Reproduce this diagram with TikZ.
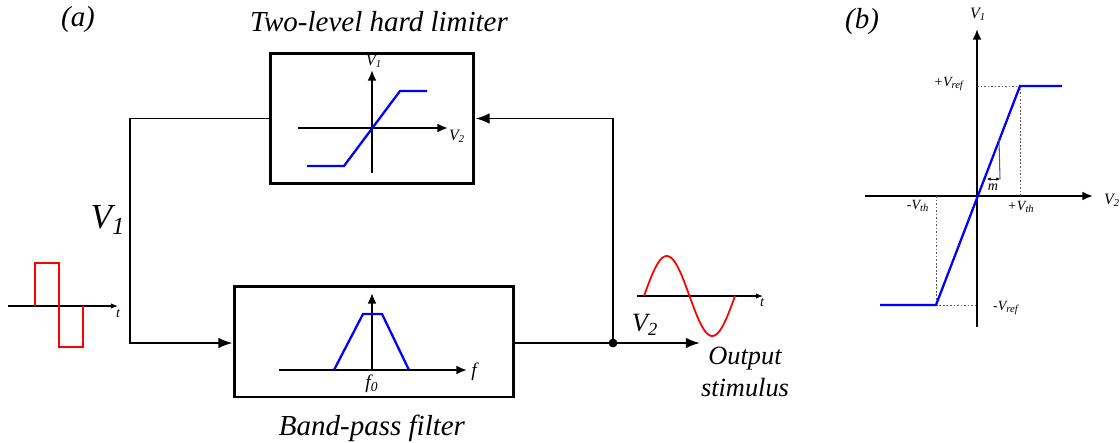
\documentclass[tikz,border=0pt]{standalone}
\usepackage{fontspec}
\setmainfont{Liberation Serif}
\usepackage{xcolor}
\usetikzlibrary{arrows.meta}
\definecolor{plotblue}{RGB}{0,0,255}
\definecolor{sigred}{RGB}{255,0,0}
\definecolor{guidegray}{RGB}{90,90,90}

\begin{document}
\begin{tikzpicture}[x=0.02cm, y=-0.02cm,
    blk/.style={draw, line width=1.7pt, inner sep=0pt},
    flow/.style={line width=1.1pt, -{Latex[length=8pt,width=6pt]}},
    axis/.style={line width=1.1pt, -{Latex[length=6pt,width=5pt]}},
    thinaxis/.style={line width=0.6pt, -{Latex[length=4pt,width=3pt]}},
    curve/.style={plotblue, line width=1.3pt},
    wave/.style={sigred, line width=1pt},
    guide/.style={guidegray, line width=0.5pt, dash pattern=on 1pt off 1pt},
    bigtxt/.style={font=\fontsize{16.5}{19}\selectfont\itshape},
    midtxt/.style={font=\fontsize{15}{18}\selectfont\itshape},
    smalltxt/.style={font=\fontsize{9}{10}\selectfont\itshape},
    tinytxt/.style={font=\fontsize{8}{9}\selectfont\itshape}]
  \useasboundingbox (0,0) rectangle (1120,443);

  % panel (a)
  \node[bigtxt] (lbla) at (78,20) {(a)};
  \node[bigtxt] (lbltitle) at (379,22) {Two-level hard limiter};
  \node[bigtxt] (lblbpf) at (372,428) {Band-pass filter};

  \node[blk, minimum width=4.08cm, minimum height=2.62cm] (lim) at (372,118.5) {};
  \node[blk, minimum width=5.6cm, minimum height=2.22cm] (bpf) at (374,341.5) {};

  \draw[axis] (298,128) -- (448,128);
  \draw[axis] (372,173) -- (372,70);
  \node[smalltxt] (limv1) at (374,61) {V\textsubscript{1}};
  \node[smalltxt] (limv2) at (457,136) {V\textsubscript{2}};
  \draw[curve] (307,166) -- (344,166) -- (400,91) -- (427,91);

  \draw[axis] (279,370) -- (467,370);
  \draw[axis] (372,370) -- (372,293);
  \node[font=\fontsize{11}{12}\selectfont\itshape] (bpff) at (474,372) {f};
  \node[font=\fontsize{11}{12}\selectfont\itshape] (bpff0) at (372,384) {f\textsubscript{0}};
  \draw[curve] (334,370) -- (363,314) -- (382,314) -- (409,370);

  \coordinate (cl) at (130,343);
  \coordinate (jr) at (613,343);
  \coordinate (out) at (700,343);
  \draw[flow] (lim.west) -| (cl) -- (cl -| bpf.west);
  \draw[line width=1.1pt] (bpf.east |- jr) -- (jr);
  \draw[flow] (jr) -- (out);
  \draw[flow] (jr) |- (lim.east);
  \fill (jr) circle (2.5pt);

  \node[font=\fontsize{20}{22}\selectfont\itshape] (v1) at (108,220) {V\textsubscript{1}};
  \node[midtxt] (v2) at (645,325) {V\textsubscript{2}};
  \node[midtxt, align=center] (outlbl) at (745,372) {Output\\stimulus};

  \draw[thinaxis] (8,306) -- (118,306);
  \node[tinytxt] (sqt) at (118,314) {t};
  \draw[wave] (35,306) -- (35,263) -- (59,263) -- (59,347) -- (83,347) -- (83,306);

  \draw[thinaxis] (637,296) -- (763,296);
  \node[tinytxt] (sint) at (762,303) {t};
  \draw[wave, domain=0:91, samples=60] plot ({644+\x}, {296-40*sin(3.956*\x)});

  % panel (b)
  \node[bigtxt] (lblb) at (862,22) {(b)};
  \draw[axis] (977,327) -- (977,29);
  \draw[axis] (865,196) -- (1093,196);
  \node[smalltxt] (bv1) at (978,14) {V\textsubscript{1}};
  \node[smalltxt] (bv2) at (1112,200) {V\textsubscript{2}};

  \draw[guide] (977,86) -- (1020,86) -- (1020,196);
  \draw[guide] (936,196) -- (936,305) -- (977,305);
  \draw[curve] (880,305) -- (936,305) -- (1020,86) -- (1062,86);

  \node[tinytxt, anchor=east] (vrefp) at (970,84) {+V\textsubscript{ref}};
  \node[tinytxt, anchor=west] (vrefm) at (987,308) {-V\textsubscript{ref}};
  \node[tinytxt] (vthp) at (1021,207) {+V\textsubscript{th}};
  \node[tinytxt] (vthm) at (918,206) {-V\textsubscript{th}};

  \draw[guidegray, line width=0.6pt] (999,140) -- (1000,179);
  \draw[line width=0.5pt, {Latex[length=2pt,width=2pt]}-{Latex[length=2pt,width=2pt]}] (987,179) -- (1000,179);
  \node[tinytxt] (slope) at (993,187) {m};
\end{tikzpicture}
\end{document}
